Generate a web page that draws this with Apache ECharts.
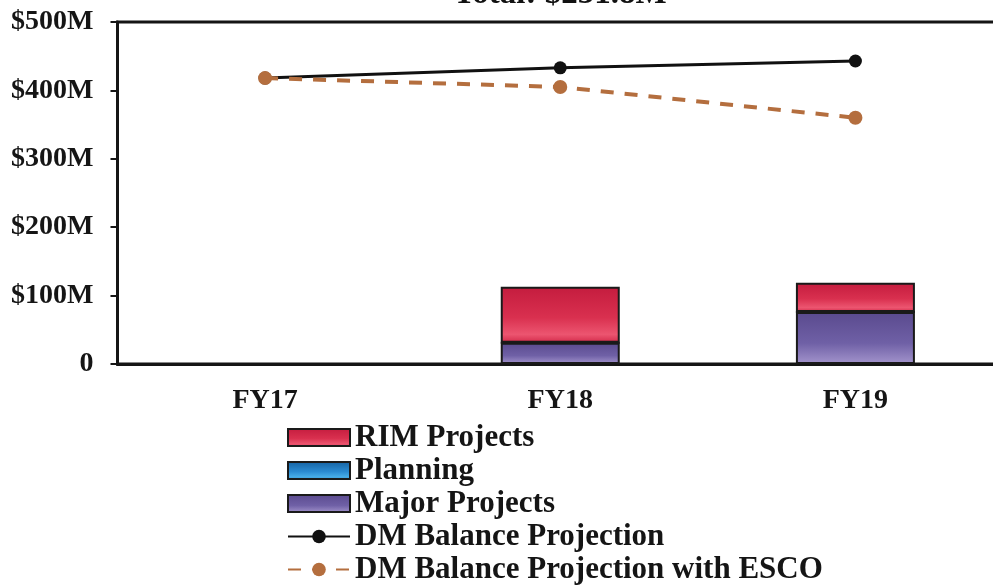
<!DOCTYPE html>
<html>
<head>
<meta charset="utf-8">
<script src="https://cdn.jsdelivr.net/npm/echarts@6/dist/echarts.min.js"></script>
<style>
  html, body { margin: 0; padding: 0; background: #ffffff; }
  #chart { width: 993px; height: 586px; }
</style>
</head>
<body>
<div id="chart"></div>
<script>
// Fiscal years on the category axis
const years = ['FY17', 'FY18', 'FY19'];

// Deferred-maintenance spending by program ($M)
const majorProjects = [null, 31, 76];
const planning = [null, 0, 0];
const rimProjects = [null, 82, 42.8];

// Deferred-maintenance balance projections ($M)
const dmBalance = [418, 433, 443];
const dmBalanceEsco = [418, 405, 360];

// Value-axis ticks ($M)
const yTicks = [0, 100, 200, 300, 400, 500];

const titleText = 'Total: $231.8M';
const serif = '"Liberation Serif", "DejaVu Serif", serif';

function grad(stops) {
  return new echarts.graphic.LinearGradient(0, 0, 0, 1,
    stops.map(([offset, color]) => ({ offset, color })));
}

const rimFill = grad([[0, '#c41c3e'], [0.55, '#d9304f'], [0.85, '#ec5570'], [1, '#d32a4a']]);
const planFill = grad([[0, '#15609f'], [0.55, '#2a8ad0'], [0.85, '#48aee8'], [1, '#1f73b8']]);
const majorFill = grad([[0, '#5a4a8e'], [0.6, '#6f60a6'], [1, '#a394cc']]);

const barBase = {
  type: 'bar',
  stack: 'spend',
  barWidth: 119,
  z: 2
};

const chart = echarts.init(document.getElementById('chart'));
chart.setOption({
  animation: false,
  backgroundColor: '#ffffff',
  title: {
    text: titleText,
    left: 560,
    textAlign: 'center',
    top: -22,
    padding: 0,
    textStyle: { fontFamily: serif, fontWeight: 'bold', fontSize: 33, color: '#111' }
  },
  grid: {
    left: 117.5, top: 22, width: 885.5, bottom: 222,
    outerBoundsMode: 'none',
    show: true, borderColor: '#151515', borderWidth: 3, backgroundColor: 'transparent'
  },
  legend: {
    orient: 'vertical',
    left: 287,
    top: 421,
    height: 180,
    padding: 0,
    itemWidth: 62,
    itemHeight: 17,
    itemGap: 0,
    textStyle: { fontFamily: serif, fontWeight: 'bold', fontSize: 31, color: '#151515', lineHeight: 33 },
    data: [
      { name: 'RIM Projects', icon: 'rect' },
      { name: 'Planning', icon: 'rect' },
      { name: 'Major Projects', icon: 'rect' },
      'DM Balance Projection',
      'DM Balance Projection with ESCO'
    ]
  },
  xAxis: {
    type: 'category',
    data: years,
    axisLine: { lineStyle: { color: '#151515', width: 3 } },
    axisTick: { show: false },
    axisLabel: { margin: 23, fontFamily: serif, fontWeight: 'bold', fontSize: 28, color: '#151515' },
    splitLine: { show: false }
  },
  yAxis: {
    type: 'value',
    min: yTicks[0],
    max: yTicks[yTicks.length - 1],
    interval: yTicks[1] - yTicks[0],
    axisLine: { show: true, lineStyle: { color: '#151515', width: 3 } },
    axisTick: { show: true, length: 7, lineStyle: { color: '#151515', width: 2 } },
    axisLabel: {
      margin: 24, fontFamily: serif, fontWeight: 'bold', fontSize: 28, color: '#151515',
      formatter: v => (v === 0 ? '0' : '$' + v + 'M')
    },
    splitLine: { show: false }
  },
  series: [
    Object.assign({}, barBase, {
      name: 'Major Projects', data: majorProjects,
      itemStyle: { color: majorFill, borderColor: '#1a1a1a', borderWidth: 2 }
    }),
    Object.assign({}, barBase, {
      name: 'Planning', data: planning,
      itemStyle: { color: planFill, borderColor: '#1a1a1a', borderWidth: 2 }
    }),
    Object.assign({}, barBase, {
      name: 'RIM Projects', data: rimProjects,
      itemStyle: { color: rimFill, borderColor: '#1a1a1a', borderWidth: 2 }
    }),
    {
      name: 'DM Balance Projection',
      type: 'line',
      data: dmBalance,
      z: 3,
      symbol: 'circle',
      symbolSize: 13,
      lineStyle: { color: '#111', width: 3 },
      itemStyle: { color: '#111' }
    },
    {
      name: 'DM Balance Projection with ESCO',
      type: 'line',
      data: dmBalanceEsco,
      z: 4,
      symbol: 'circle',
      symbolSize: 14,
      lineStyle: { color: '#b46e3e', width: 4, type: [13, 11] },
      itemStyle: { color: '#b46e3e' }
    }
  ]
});
</script>
</body>
</html>
